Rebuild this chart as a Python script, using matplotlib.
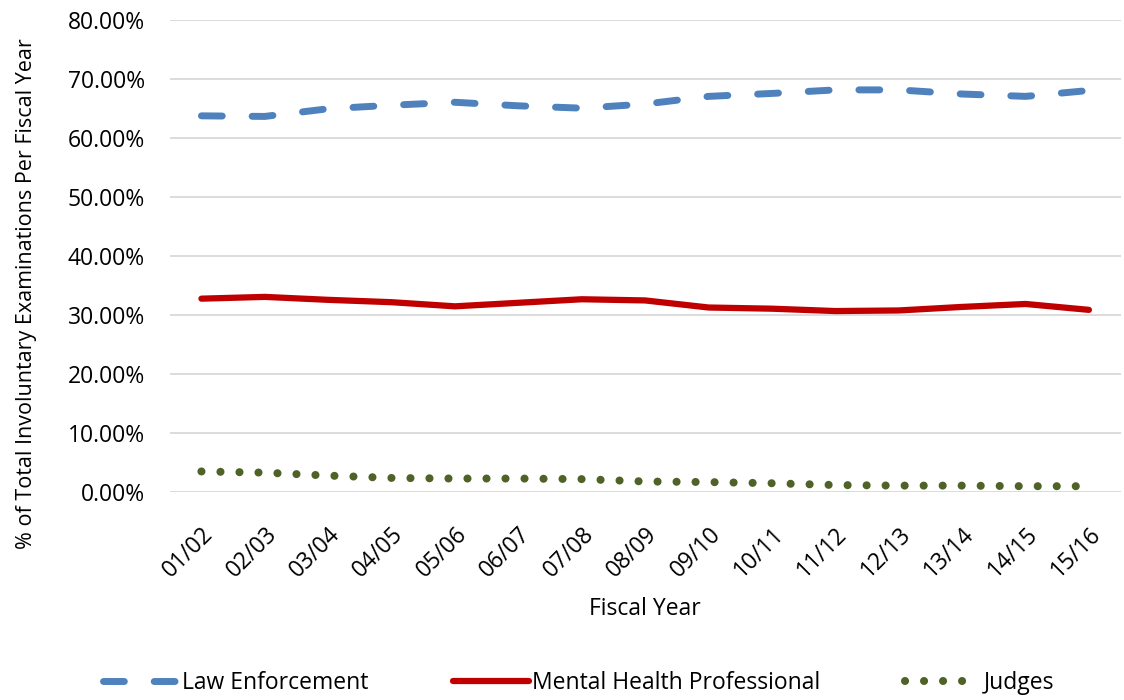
import matplotlib.pyplot as plt
from matplotlib.ticker import PercentFormatter

plt.rcParams['font.family'] = ['Open Sans', 'DejaVu Sans']

years = ["01/02", "02/03", "03/04", "04/05", "05/06", "06/07", "07/08", "08/09",
         "09/10", "10/11", "11/12", "12/13", "13/14", "14/15", "15/16"]

law_enforcement = [63.8, 63.7, 65.0, 65.6, 66.1, 65.5, 65.1, 65.8,
                   67.1, 67.6, 68.2, 68.2, 67.5, 67.1, 68.1]
mental_health = [32.8, 33.1, 32.6, 32.2, 31.5, 32.1, 32.7, 32.5,
                 31.3, 31.1, 30.7, 30.8, 31.4, 31.9, 30.9]
judges = [3.5, 3.3, 2.8, 2.4, 2.3, 2.3, 2.2, 1.8,
          1.7, 1.5, 1.2, 1.1, 1.1, 1.0, 1.0]

fig = plt.figure(figsize=(11.24, 7.0), dpi=100)
ax = fig.add_axes([0.151, 0.297, 0.846, 0.674])

x = range(len(years))
ax.plot(x, law_enforcement, color="#4F81BD", lw=5.0, dashes=(3.0, 4.3),
        dash_capstyle="round", label="Law Enforcement")
ax.plot(x, mental_health, color="#C00000", lw=4.5, solid_capstyle="round",
        label="Mental Health Professional")
ax.plot(x, judges, color="#4F6228", lw=5.8, dashes=(0.01, 2.35),
        dash_capstyle="round", label="Judges")

ax.set_ylim(0, 80)
ax.set_yticks(range(0, 81, 10))
ax.yaxis.set_major_formatter(PercentFormatter(decimals=2))
ax.set_xlim(-0.5, len(years) - 0.5)
ax.set_xticks(list(x))
ax.set_xticklabels(years, rotation=45, ha="right", rotation_mode="anchor")
ax.tick_params(axis="both", length=0, labelsize=16.5, colors="#000000")
ax.tick_params(axis="x", pad=22)
ax.tick_params(axis="y", pad=18)

ax.grid(axis="y", color="#D9D9D9", lw=1.3)
ax.set_axisbelow(True)
for s in ax.spines.values():
    s.set_visible(False)

ax.set_xlabel("Fiscal Year", fontsize=16.5, labelpad=10)
ax.set_ylabel("% of Total Involuntary Examinations Per Fiscal Year", fontsize=15.5)
ax.yaxis.set_label_coords(-0.14, 0.42)

fig.legend(loc="lower center", bbox_to_anchor=(0.515, -0.022), ncol=3, frameon=False,
           fontsize=16.5, handlelength=3.3, columnspacing=3.7, handletextpad=0.15)

fig.savefig("out.png", dpi=100)
